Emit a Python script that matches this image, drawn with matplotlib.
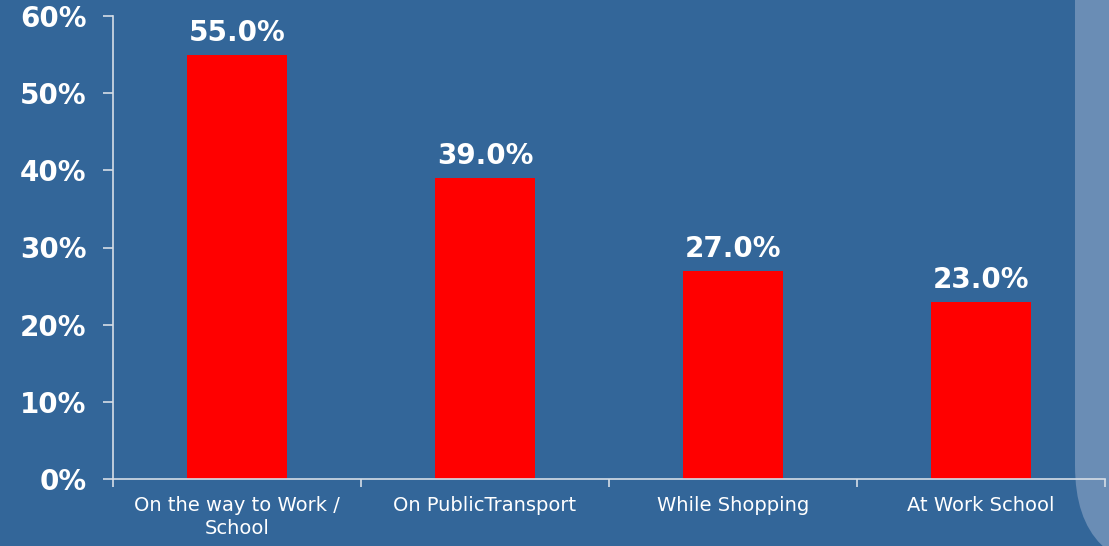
import matplotlib
matplotlib.use("Agg")
import matplotlib.pyplot as plt
import numpy as np
from matplotlib.patches import FancyBboxPatch
from matplotlib.ticker import FixedLocator, NullFormatter

plt.rcParams["font.family"] = ["DejaVu Sans"]

# === Data ===
categories = ["On the way to Work /\nSchool", "On PublicTransport", "While Shopping", "At Work School"]
values = [55.0, 39.0, 27.0, 23.0]
yticks = [0, 10, 20, 30, 40, 50, 60]

bg = "#336699"
panel = "#6a8db5"
spine = "#d6dde6"

fig = plt.figure(figsize=(11.09, 5.46), dpi=100)
fig.patch.set_facecolor(bg)

# light panel on the right edge (rounded lower-left corner), in inches
fig.patches.append(FancyBboxPatch((10.75, -0.25), 1.5, 7.0,
                                  boxstyle="round,pad=0,rounding_size=1.05",
                                  transform=fig.dpi_scale_trans, facecolor=panel,
                                  edgecolor="none", zorder=0))

ax = fig.add_axes([113 / 1109, 67 / 546, (1105 - 113) / 1109, 463 / 546])
ax.set_facecolor("none")
ax.set_zorder(2)

x = np.arange(len(categories))
ax.bar(x, values, width=0.4, color="#ff0000", zorder=2)

for xi, v in zip(x, values):
    ax.text(xi, v + 1.8, f"{v:.1f}%", ha="center", va="baseline",
            color="white", fontsize=20, fontweight="bold")

ax.set_xlim(-0.5, len(categories) - 0.5)
ax.set_ylim(0, 60)
ax.set_yticks(yticks)
ax.set_yticklabels([f"{t}%" for t in yticks], fontsize=20, fontweight="bold", color="white")

# category labels between boundary ticks
ax.set_xticks(x)
ax.set_xticklabels(categories, fontsize=14, color="white", linespacing=1.3)
ax.tick_params(axis="x", which="major", length=0, pad=12)
ax.xaxis.set_minor_locator(FixedLocator(np.arange(-0.5, len(categories), 1.0)))
ax.xaxis.set_minor_formatter(NullFormatter())
ax.tick_params(axis="x", which="minor", length=6, color=spine, width=1.2, direction="out")
ax.tick_params(axis="y", length=7, color=spine, width=1.2, pad=12)

for side in ["top", "right"]:
    ax.spines[side].set_visible(False)
for side in ["left", "bottom"]:
    ax.spines[side].set_color(spine)
    ax.spines[side].set_linewidth(1.2)

plt.savefig("out.png", dpi=100, facecolor=bg)
